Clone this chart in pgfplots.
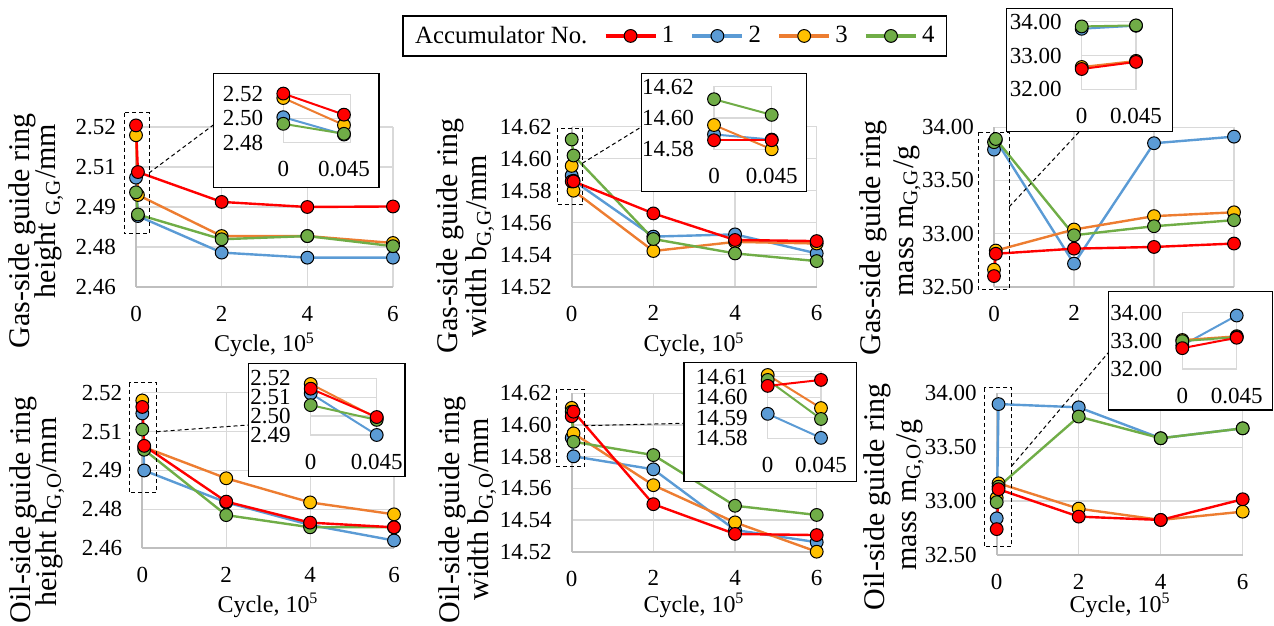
\documentclass[border=0pt]{standalone}
\usepackage{fontspec}
\setmainfont{Liberation Serif}
\usepackage{pgfplots}
\usepackage{pgfplotstable}
\pgfplotsset{compat=1.18}

\definecolor{cRed}{RGB}{255,0,0}
\definecolor{cBlue}{RGB}{91,155,213}
\definecolor{cOrange}{RGB}{237,125,49}
\definecolor{cYellow}{RGB}{255,192,0}
\definecolor{cGreen}{RGB}{112,173,71}
\definecolor{gridgray}{RGB}{217,217,217}
\definecolor{axisgray}{RGB}{191,191,191}

\newcommand\ticksize{\fontsize{11.5}{13}\selectfont}
\newcommand\ylsize{\fontsize{15}{17}\selectfont}
\newcommand\xlsize{\fontsize{12}{14}\selectfont}

% gas-side height h_G,G
\pgfplotstableread{
x s1 s2 s3 s4
0 2.5206 2.5010 2.5169 2.4955
0.045 2.5031 2.4866 2.4945 2.4872
2 2.4919 2.4729 2.4791 2.4779
4 2.4900 2.4710 2.4791 2.4791
6 2.4902 2.4710 2.4765 2.4753
}\tA
% gas-side width b_G,G
\pgfplotstableread{
x s1 s2 s3 s4
0 14.5858 14.5895 14.5955 14.6120
0.045 14.5858 14.5862 14.5800 14.6020
2 14.5658 14.5513 14.5423 14.5498
4 14.5492 14.5527 14.5480 14.5408
6 14.5485 14.5408 14.5470 14.5360
}\tB
% gas-side mass m_G,G
\pgfplotstableread{
x s1 s2 s3 s4
0 32.60 33.79 32.66 33.86
0.045 32.81 33.88 32.84 33.89
2 32.858 32.717 33.038 32.984
4 32.874 33.85 33.164 33.069
6 32.906 33.912 33.20 33.126
}\tC
% oil-side height h_G,O
\pgfplotstableread{
x s1 s2 s3 s4
0 2.5145 2.5120 2.5170 2.5058
0.045 2.4995 2.4900 2.4990 2.4980
2 2.4780 2.4777 2.4870 2.4728
4 2.4699 2.4690 2.4777 2.4681
6 2.4681 2.4630 2.4731 2.4681
}\tD
% oil-side width b_G,O
\pgfplotstableread{
x s1 s2 s3 s4
0 14.6055 14.5919 14.6108 14.6084
0.045 14.6084 14.5802 14.5947 14.5894
2 14.5500 14.5720 14.5620 14.5810
4 14.5312 14.5337 14.5385 14.5490
6 14.5305 14.5260 14.5200 14.5432
}\tE
% oil-side mass m_G,O
\pgfplotstableread{
x s1 s2 s3 s4
0 32.74 32.84 33.03 32.99
0.045 33.11 33.90 33.165 33.134
2 32.856 33.87 32.93 33.784
4 32.825 33.583 32.825 33.583
6 33.017 33.675 32.902 33.675
}\tF

\pgfplotsset{
  s1/.style={color=cRed, line width=1.2pt, mark=*, mark size=3.2pt,
    mark options={solid, fill=cRed, draw=black, line width=0.5pt}},
  s2/.style={color=cBlue, line width=1.2pt, mark=*, mark size=3.2pt,
    mark options={solid, fill=cBlue, draw=black, line width=0.5pt}},
  s3/.style={color=cOrange, line width=1.2pt, mark=*, mark size=3.2pt,
    mark options={solid, fill=cYellow, draw=black, line width=0.5pt}},
  s4/.style={color=cGreen, line width=1.2pt, mark=*, mark size=3.2pt,
    mark options={solid, fill=cGreen, draw=black, line width=0.5pt}},
  mainax/.style={
    scale only axis, clip=false, anchor=south west,
    xmin=0, xmax=6, xtick={0,2,4,6}, xticklabels={0,2,4,6},
    scaled x ticks=false, scaled y ticks=false,
    axis lines*=left, axis line style={draw=axisgray, line width=1pt, -},
    grid=major, major grid style={draw=gridgray, line width=0.6pt},
    major tick length=0pt, tick style={draw=none},
    tick label style={font=\ticksize},
    xticklabel style={yshift=-6pt},
    yticklabel style={xshift=-6.5pt},
    /pgf/number format/assume math mode=true,
  },
  insetax/.style={
    scale only axis, clip=false, anchor=south west,
    xmin=0, xtick={0,0.045}, xticklabels={0,0.045},
    scaled x ticks=false, scaled y ticks=false,
    axis line style={draw=gridgray, line width=0.7pt},
    ymajorgrids, major grid style={draw=gridgray, line width=0.6pt},
    major tick length=0pt, tick style={draw=none},
    tick label style={font=\ticksize},
    xticklabel style={yshift=-6pt},
    yticklabel style={xshift=-6.5pt, inner ysep=0pt, text height=7.6pt, text depth=0pt},
    restrict x to domain=0:0.05,
    /pgf/number format/assume math mode=true,
  },
}

\newcommand\fourplots[2]{%
  \addplot[s2, line width=#2, forget plot] table[x=x,y=s2]{#1};
  \addplot[s3, line width=#2, forget plot] table[x=x,y=s3]{#1};
  \addplot[s4, line width=#2, forget plot] table[x=x,y=s4]{#1};
  \addplot[s1, line width=#2, forget plot] table[x=x,y=s1]{#1};
}

\begin{document}
\begin{tikzpicture}
\useasboundingbox (0pt,0pt) rectangle (637pt,313pt);

% ---------- Panel 1 ----------
\begin{axis}[mainax, at={(68pt,169.5pt)}, width=128.5pt, height=80pt,
  ymin=2.46, ymax=2.52, ytick={2.46,2.475,2.49,2.505,2.52},
  yticklabels={2.46,2.48,2.49,2.51,2.52},
  legend columns=5,
  legend image code/.code={%
    \draw[mark repeat=2,mark phase=2,#1] plot coordinates {(0pt,0pt) (12.5pt,0pt) (25pt,0pt)};},
  legend style={at={(axis description cs:2.097,1.569)}, anchor=center,
    draw=black, line width=0.8pt, font=\fontsize{12.4}{14}\selectfont,
    inner xsep=4pt, inner ysep=3pt,
    /tikz/every even column/.append style={column sep=6pt}},
]
\addlegendimage{empty legend}\addlegendentry{Accumulator No.}
\addlegendimage{s1, line width=2.2pt}\addlegendentry{1}
\addlegendimage{s2, line width=2.2pt}\addlegendentry{2}
\addlegendimage{s3, line width=2.2pt}\addlegendentry{3}
\addlegendimage{s4, line width=2.2pt}\addlegendentry{4}
\fourplots{\tA}{1.2pt}
\end{axis}

% ---------- Panel 2 ----------
\begin{axis}[mainax, at={(285.85pt,169.65pt)}, width=122.5pt, height=80pt,
  ymin=14.52, ymax=14.62, ytick={14.52,14.54,14.56,14.58,14.60,14.62},
  yticklabels={14.52,14.54,14.56,14.58,14.60,14.62}]
\fourplots{\tB}{1.2pt}
\end{axis}

% ---------- Panel 3 (labels at 4 and 6 lie under the inset of panel 6) ----------
\begin{axis}[mainax, at={(497pt,169.65pt)}, width=120pt, height=79.7pt,
  xticklabels={0,2,,},
  ymin=32.5, ymax=34, ytick={32.5,33,33.5,34},
  yticklabels={32.50,33.00,33.50,34.00}]
\fourplots{\tC}{1.2pt}
\end{axis}

% ---------- Panel 4 ----------
\begin{axis}[mainax, at={(71.15pt,38.85pt)}, width=125.85pt, height=77.8pt,
  ymin=2.46, ymax=2.52, ytick={2.46,2.475,2.49,2.505,2.52},
  yticklabels={2.46,2.48,2.49,2.51,2.52}]
\fourplots{\tD}{1.2pt}
\end{axis}

% ---------- Panel 5 ----------
\begin{axis}[mainax, at={(285.85pt,37.15pt)}, width=122.5pt, height=79.2pt,
  ymin=14.52, ymax=14.62, ytick={14.52,14.54,14.56,14.58,14.60,14.62},
  yticklabels={14.52,14.54,14.56,14.58,14.60,14.62}]
\fourplots{\tE}{1.2pt}
\end{axis}

% ---------- Panel 6 ----------
\begin{axis}[mainax, at={(498.35pt,35.5pt)}, width=123pt, height=80.85pt,
  ymin=32.5, ymax=34, ytick={32.5,33,33.5,34},
  yticklabels={32.50,33.00,33.50,34.00}]
\fourplots{\tF}{1.2pt}
\end{axis}

% ---------- labels (pixel coordinates) ----------
\begin{scope}[x=0.5pt, y=-0.5pt, shift={(0pt,313pt)}]
  \node[rotate=90, font=\ylsize] at (22,231) {Gas-side guide ring};
  \node[rotate=90, font=\ylsize] at (49,211) {height \textsubscript{G,G}/mm};
  \node[rotate=90, font=\ylsize] at (450,236) {Gas-side guide ring};
  \node[rotate=90, font=\ylsize] at (480,246) {width b\textsubscript{G,G}/mm};
  \node[rotate=90, font=\ylsize] at (873,238) {Gas-side guide ring};
  \node[rotate=90, font=\ylsize] at (907,221) {mass m\textsubscript{G,G}/g};
  \node[rotate=90, font=\ylsize] at (23,510) {Oil-side guide ring};
  \node[rotate=90, font=\ylsize] at (50,512) {height h\textsubscript{G,O}/mm};
  \node[rotate=90, font=\ylsize] at (452,510) {Oil-side guide ring};
  \node[rotate=90, font=\ylsize] at (482,509) {width b\textsubscript{G,O}/mm};
  \node[rotate=90, font=\ylsize] at (877,497) {Oil-side guide ring};
  \node[rotate=90, font=\ylsize] at (910,495) {mass m\textsubscript{G,O}/g};
  \node[font=\xlsize] at (264.5,345) {Cycle, 10\textsuperscript{5}};
  \node[font=\xlsize] at (694,345) {Cycle, 10\textsuperscript{5}};
  \node[font=\xlsize] at (268,605) {Cycle, 10\textsuperscript{5}};
  \node[font=\xlsize] at (694,605) {Cycle, 10\textsuperscript{5}};
  \node[font=\xlsize] at (1120,605) {Cycle, 10\textsuperscript{5}};
  % inset frames
  \draw[black, line width=0.75pt, fill=white] (213.3,73.3) rectangle (379,187.3);
  \draw[black, line width=0.75pt, fill=white] (641.7,73.3) rectangle (806.7,191.7);
  \draw[black, line width=0.75pt, fill=white] (1006.7,8.3) rectangle (1172.3,131.7);
  \draw[black, line width=0.75pt, fill=white] (248.3,363.3) rectangle (405,476.7);
  \draw[black, line width=0.75pt, fill=white] (684,362.7) rectangle (856.7,481.7);
  \draw[black, line width=0.75pt, fill=white] (1108.3,291.7) rectangle (1272.5,410);
\end{scope}

% ---------- Insets ----------
\begin{axis}[insetax, at={(141.65pt,241.75pt)}, width=33.7pt, height=24.1pt,
  xmax=0.05, ymin=2.48, ymax=2.52, ytick={2.48,2.50,2.52},
  yticklabels={2.48,2.50,2.52}]
\fourplots{\tA}{1pt}
\end{axis}
\begin{axis}[insetax, at={(357pt,238.35pt)}, width=28.85pt, height=31.3pt,
  xmax=0.045, ymin=14.58, ymax=14.62, ytick={14.58,14.60,14.62},
  yticklabels={14.58,14.60,14.62}]
\fourplots{\tB}{1pt}
\end{axis}
\begin{axis}[insetax, at={(540.85pt,268.35pt)}, width=27.15pt, height=33.8pt,
  xmax=0.045, ymin=32, ymax=34, ytick={32,33,34},
  yticklabels={32.00,33.00,34.00}]
\fourplots{\tC}{1pt}
\end{axis}
\begin{axis}[insetax, at={(155.35pt,95.5pt)}, width=33pt, height=28.35pt,
  xmax=0.045, ymin=2.49, ymax=2.52, ytick={2.49,2.50,2.51,2.52},
  yticklabels={2.49,2.50,2.51,2.52}]
\fourplots{\tD}{1pt}
\end{axis}
\begin{axis}[insetax, at={(383.85pt,93.85pt)}, width=26.65pt, height=33.4pt,
  xmax=0.045, ymin=14.58, ymax=14.6125, ytick={14.58,14.59,14.60,14.61},
  yticklabels={14.58,14.59,14.60,14.61}]
\fourplots{\tE}{1pt}
\end{axis}
\begin{axis}[insetax, at={(591.15pt,128.5pt)}, width=27.2pt, height=28.15pt,
  xmax=0.045, ymin=32, ymax=34, ytick={32,33,34},
  yticklabels={32.00,33.00,34.00}]
\fourplots{\tF}{1pt}
\end{axis}

% ---------- zoom markers ----------
\begin{scope}[x=0.5pt, y=-0.5pt, shift={(0pt,313pt)}, black, line width=0.5pt, dash pattern=on 2pt off 1.5pt]
  \draw (124,113) rectangle (149,234);
  \draw (149,173) -- (213.3,125);
  \draw (557.3,128.3) rectangle (582.3,205);
  \draw (582.3,163.3) -- (641.7,126.7);
  \draw (978.3,132.3) rectangle (1009.3,289.3);
  \draw (1009.3,206.7) -- (1079.3,131.7);
  \draw (129.3,382.7) rectangle (156.7,492.7);
  \draw (156.7,431.7) -- (248.3,425);
  \draw (556.7,389.3) rectangle (584.3,466.7);
  \draw (584.3,425.7) -- (684,423.3);
  \draw (984,387.7) rectangle (1011.7,546.7);
  \draw (1011.7,466) -- (1108.3,352.7);
\end{scope}
\end{tikzpicture}
\end{document}
